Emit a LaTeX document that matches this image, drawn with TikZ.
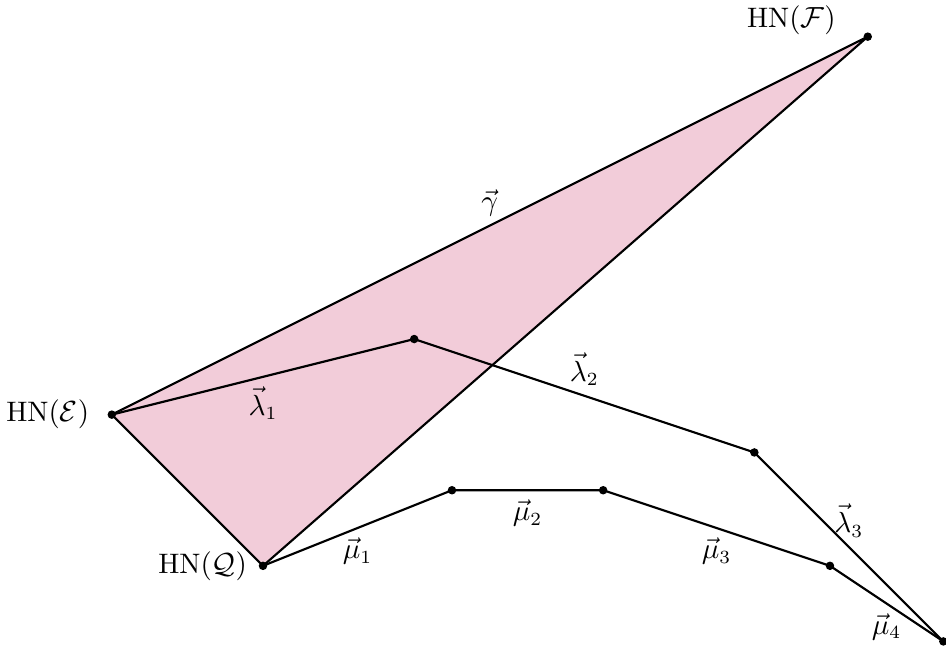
\documentclass[tikz,border=0pt]{standalone}
\usepackage{amsmath,amssymb}
\usepackage{xcolor}
\usepackage{tikz}
\usetikzlibrary{positioning}

\begin{document}
\begin{tikzpicture}[
  x=0.5cm, y=0.5cm,
  every node/.style={font=\fontsize{10.6pt}{13pt}\selectfont},
  seg/.style={thick, line join=round},
  region/.style={fill=purple!20},
  ptdot/.style={fill=black}
]
  \useasboundingbox (-6.958,-2.275) rectangle (18.07,14.97);

  % HN polygon vertices
  \coordinate (Q)  at (0,0);
  \coordinate (E)  at (-4,4);
  \coordinate (F)  at (16,14);
  \coordinate (L1) at (4,6);
  \coordinate (L2) at (13,3);
  \coordinate (L3) at (18,-2);
  \coordinate (M1) at (5,2);
  \coordinate (M2) at (9,2);
  \coordinate (M3) at (15,0);

  % Shaded triangle
  \fill[region] (E) -- (F) -- (Q) -- cycle;
  \draw[seg] (E) -- node[midway, above] (gam) {$\vec{\gamma}$} (F) -- (Q) -- cycle;

  % lambda path
  \draw[seg] (E) -- node[midway, below] (lam1) {$\vec{\lambda}_1$} (L1)
                 -- node[midway, above] (lam2) {$\vec{\lambda}_2$} (L2)
                 -- node[midway, above] (lam3) {$\vec{\lambda}_3$} (L3);

  % mu path
  \draw[seg] (Q) -- node[midway, below] (mu1) {$\vec{\mu}_1$} (M1)
                 -- node[midway, below] (mu2) {$\vec{\mu}_2$} (M2)
                 -- node[midway, below] (mu3) {$\vec{\mu}_3$} (M3)
                 -- node[midway, below] (mu4) {$\vec{\mu}_4$} (L3);

  % vertex dots
  \foreach \p in {Q,E,F,L1,L2,L3,M1,M2,M3}
    \fill[ptdot] (\p) circle (1.6pt);

  % vertex labels
  \node[left=5pt of E] (hnE) {HN$(\mathcal{E})$};
  \node[left=2.5pt of Q] (hnQ) {HN$(\mathcal{Q})$};
  \node[above left=-3pt and 8.5pt of F] (hnF) {HN$(\mathcal{F})$};

\end{tikzpicture}
\end{document}
